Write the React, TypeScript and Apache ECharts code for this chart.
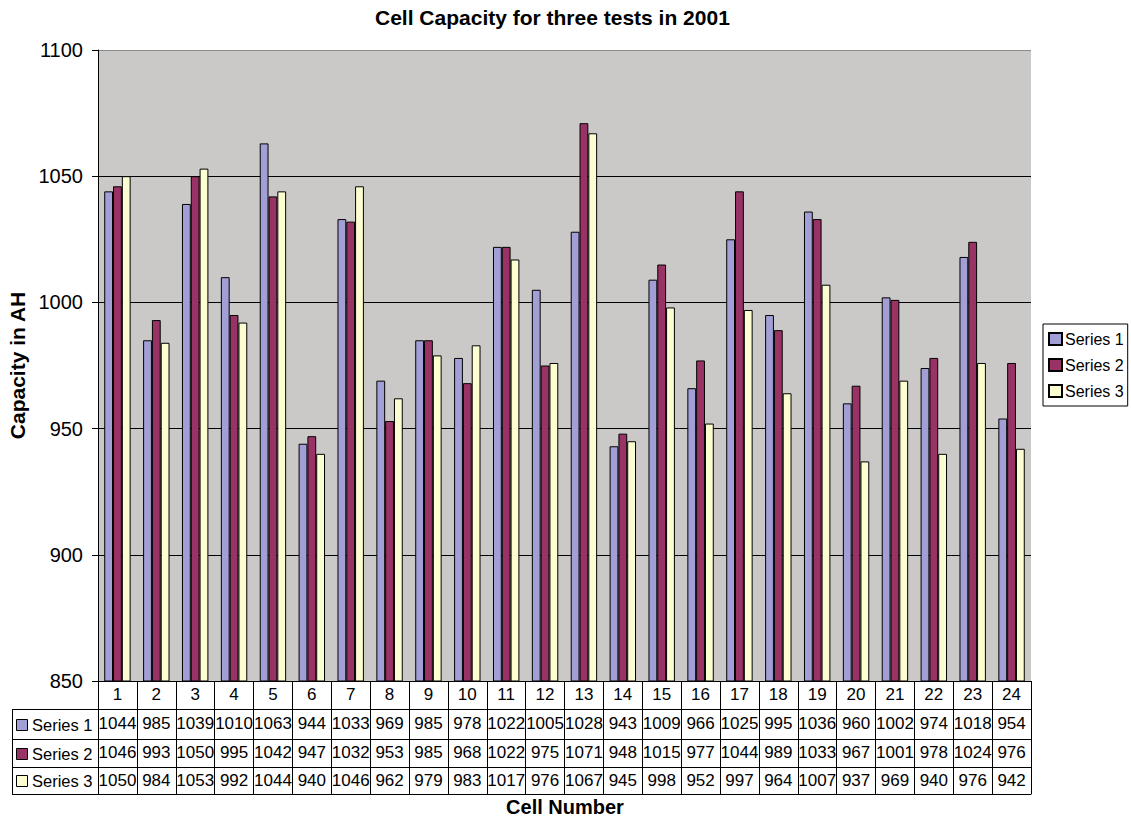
import React, { useEffect, useRef } from "react";
import * as echarts from "echarts";

const FONT = "'Liberation Sans', Arial, Helvetica, sans-serif";

// Cell numbers along the x axis
const categories = [
  "1", "2", "3", "4", "5", "6", "7", "8", "9", "10", "11", "12",
  "13", "14", "15", "16", "17", "18", "19", "20", "21", "22", "23", "24",
];

const seriesNames = ["Series 1", "Series 2", "Series 3"];

// Capacity in AH per cell for each test
const series1 = [1044, 985, 1039, 1010, 1063, 944, 1033, 969, 985, 978, 1022, 1005, 1028, 943, 1009, 966, 1025, 995, 1036, 960, 1002, 974, 1018, 954];
const series2 = [1046, 993, 1050, 995, 1042, 947, 1032, 953, 985, 968, 1022, 975, 1071, 948, 1015, 977, 1044, 989, 1033, 967, 1001, 978, 1024, 976];
const series3 = [1050, 984, 1053, 992, 1044, 940, 1046, 962, 979, 983, 1017, 976, 1067, 945, 998, 952, 997, 964, 1007, 937, 969, 940, 976, 942];

const yMin = 850;
const yMax = 1100;
const yStep = 50;

const seriesValues = [series1, series2, series3];
const COLORS = ["#a29ed6", "#993366", "#fdfdd2"];
const PLOT_BG = "#cbc9c7";

// Data table geometry (grid bottom is at y = 681)
const GRID_BOTTOM_Y = 681;
const ROW_OFFSETS = [28, 58, 86]; // top line of each series row
const TABLE_BOTTOM_OFFSET = 113;
const LABEL_MARGINS = [6, 5, 5];
const TABLE_FONT = 17;

export default function App() {
  const ref = useRef<HTMLDivElement>(null);

  useEffect(() => {
    if (!ref.current) return;
    const chart = echarts.init(ref.current, undefined, { renderer: "svg" });

    const mainAxis = {
      type: "category",
      gridIndex: 0,
      position: "bottom",
      data: categories,
      boundaryGap: true,
      axisLine: { show: true, lineStyle: { color: "#000", width: 1 } },
      axisTick: {
        show: true,
        interval: 0,
        inside: false,
        length: TABLE_BOTTOM_OFFSET,
        lineStyle: { color: "#000", width: 1 },
      },
      axisLabel: {
        interval: 0,
        margin: 5,
        fontSize: TABLE_FONT,
        color: "#000",
        fontFamily: FONT,
      },
      splitLine: { show: false },
    };

    const rowAxes = seriesValues.map((vals, i) => ({
      type: "category",
      gridIndex: 0,
      position: "bottom",
      offset: ROW_OFFSETS[i],
      data: vals.map((v) => String(v)),
      boundaryGap: true,
      axisLine: { show: true, onZero: false, lineStyle: { color: "#000", width: 1 } },
      axisTick: { show: false },
      axisLabel: {
        interval: 0,
        margin: LABEL_MARGINS[i],
        fontSize: TABLE_FONT,
        color: "#000",
        fontFamily: FONT,
      },
      splitLine: { show: false },
    }));

    const bottomAxis = {
      type: "category",
      gridIndex: 0,
      position: "bottom",
      offset: TABLE_BOTTOM_OFFSET,
      data: categories,
      boundaryGap: true,
      axisLine: { show: true, onZero: false, lineStyle: { color: "#000", width: 1 } },
      axisTick: { show: false },
      axisLabel: { show: false },
      splitLine: { show: false },
    };

    // Row header column at the left of the data table
    const headerGraphics: any[] = [];
    const lineYs = [
      ...ROW_OFFSETS.map((o) => GRID_BOTTOM_Y + o),
      GRID_BOTTOM_Y + TABLE_BOTTOM_OFFSET,
    ];
    lineYs.forEach((y) => {
      headerGraphics.push({
        type: "line",
        shape: { x1: 12, y1: y + 0.5, x2: 98, y2: y + 0.5 },
        style: { stroke: "#000", lineWidth: 1 },
      });
    });
    headerGraphics.push({
      type: "line",
      shape: { x1: 12.5, y1: lineYs[0] + 0.5, x2: 12.5, y2: lineYs[3] + 0.5 },
      style: { stroke: "#000", lineWidth: 1 },
    });
    seriesNames.forEach((name, i) => {
      const cy = (lineYs[i] + lineYs[i + 1]) / 2 + 0.5;
      headerGraphics.push({
        type: "rect",
        shape: { x: 16.5, y: Math.round(cy - 6) + 0.5, width: 11, height: 11 },
        style: { fill: COLORS[i], stroke: "#000", lineWidth: 1 },
      });
      headerGraphics.push({
        type: "text",
        x: 32,
        y: cy,
        style: {
          text: name,
          fontSize: 16.5,
          fontFamily: FONT,
          fill: "#000",
          textAlign: "left",
          textVerticalAlign: "middle",
        },
      });
    });
    headerGraphics.push({
      type: "text",
      x: 565,
      y: 807,
      style: {
        text: "Cell Number",
        fontSize: 20,
        fontWeight: "bold",
        fontFamily: FONT,
        fill: "#000",
        textAlign: "center",
        textVerticalAlign: "middle",
      },
    });

    const option: any = {
      animation: false,
      backgroundColor: "#fff",
      textStyle: { fontFamily: FONT },
      title: {
        text: "Cell Capacity for three tests in 2001",
        left: 370,
        top: 2,
        textStyle: { fontSize: 21, fontWeight: "bold", color: "#000", fontFamily: FONT },
      },
      legend: {
        orient: "vertical",
        left: 1043,
        top: 324,
        data: seriesNames,
        icon: "rect",
        itemWidth: 13,
        itemHeight: 12,
        itemGap: 10,
        padding: [7, 4, 7, 5],
        backgroundColor: "#fff",
        borderColor: "#000",
        borderWidth: 1,
        textStyle: { fontSize: 16, color: "#000", fontFamily: FONT, padding: [0, 0, 0, -2] },
      },
      grid: {
        left: 98,
        top: 50,
        right: 100,
        bottom: 138,
        show: true,
        backgroundColor: PLOT_BG,
        borderWidth: 0,
        containLabel: false,
        outerBoundsMode: "none",
      },
      xAxis: [mainAxis, ...rowAxes, bottomAxis],
      yAxis: {
        type: "value",
        min: yMin,
        max: yMax,
        interval: yStep,
        name: "Capacity in AH",
        nameLocation: "middle",
        nameRotate: 90,
        nameGap: 70,
        nameTextStyle: { fontSize: 21, fontWeight: "bold", color: "#000", fontFamily: FONT },
        axisLine: { show: true, lineStyle: { color: "#000", width: 1 } },
        axisTick: { show: true, inside: false, length: 6, lineStyle: { color: "#000" } },
        axisLabel: {
          fontSize: 20,
          color: "#000",
          margin: 15,
          fontFamily: FONT,
          formatter: (v: number) => String(v),
        },
        splitLine: {
          show: true,
          lineStyle: { color: ["#000", "#000", "#000", "#000", "#000", "#8c8c8c"], width: 1 },
        },
      },
      series: seriesNames.map((name, i) => ({
        type: "bar",
        name,
        xAxisIndex: 0,
        data: seriesValues[i],
        barGap: "0%",
        barCategoryGap: "32%",
        itemStyle: { color: COLORS[i], borderColor: "#000", borderWidth: 1 },
        emphasis: { disabled: true },
      })),
      graphic: headerGraphics,
    };

    chart.setOption(option);
    return () => chart.dispose();
  }, []);

  return (
    <div
      ref={ref}
      style={{ position: "absolute", left: 0, top: 0, width: 1131, height: 819 }}
    />
  );
}
